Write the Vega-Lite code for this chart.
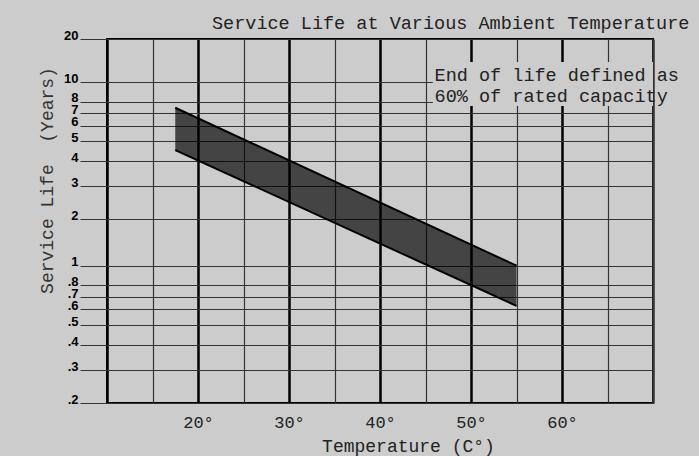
{
  "$schema": "https://vega.github.io/schema/vega-lite/v6.json",
  "width": 546,
  "height": 364,
  "autosize": {"type": "none"},
  "padding": {"left": 107, "top": 39, "right": 46, "bottom": 53},
  "background": "#cccccc",
  "title": {
    "text": "Service Life at Various Ambient Temperature",
    "font": "Liberation Mono",
    "fontSize": 18.5,
    "fontWeight": "normal",
    "color": "#222222",
    "anchor": "start",
    "frame": "group",
    "dx": 105,
    "dy": 11,
    "offset": 8
  },
  "config": {
    "view": {"stroke": "black", "strokeWidth": 2, "fill": "#cccccc"}
  },
  "datasets": {
    "band": [
      {"temperature": 17.5, "upper": 7.44, "lower": 4.52},
      {"temperature": 55, "upper": 1.0, "lower": 0.626}
    ],
    "note": [
      {"temperature": 46, "years": 11.2, "label": "End of life defined as"},
      {"temperature": 46, "years": 8.5, "label": "60% of rated capacity"}
    ],
    "box": [
      {"x1": 45.8, "x2": 70, "y1": 7.6, "y2": 13.8}
    ]
  },
  "layer": [
    {
      "data": {"name": "band"},
      "mark": {"type": "area", "fill": "black", "fillOpacity": 0.667},
      "encoding": {
        "x": {
          "field": "temperature", "type": "quantitative",
          "scale": {"domain": [10, 70], "nice": false, "zero": false},
          "axis": {
            "values": [10, 15, 20, 25, 30, 35, 40, 45, 50, 55, 60, 65, 70],
            "labelExpr": "(datum.value % 10 === 0 && datum.value > 10 && datum.value < 70) ? datum.value + '°' : ''",
            "labelFont": "Liberation Mono",
            "labelFontSize": 17,
            "labelColor": "#222222",
            "labelBaseline": "middle",
            "labelPadding": 19,
            "ticks": false,
            "tickSize": 0,
            "domain": false,
            "grid": true,
            "gridColor": {"condition": {"test": "datum.value % 10 === 0 && datum.value < 70", "value": "black"}, "value": "#333333"},
            "gridWidth": {"condition": {"test": "datum.value % 10 === 0", "value": 2.5}, "value": 1.2},
            "gridOpacity": 1,
            "title": "Temperature (C°)",
            "titleFont": "Liberation Mono",
            "titleFontSize": 18,
            "titleFontWeight": "normal",
            "titleColor": "#222222",
            "titleX": 301,
            "titleY": 43,
            "titleBaseline": "middle",
            "titleAlign": "center"
          }
        },
        "y": {
          "field": "upper", "type": "quantitative",
          "scale": {
            "type": "log",
            "domain": [0.2, 0.3, 0.4, 0.5, 0.6, 0.7, 0.8, 1, 2, 3, 4, 5, 6, 7, 8, 10, 20],
            "range": [364, 331, 306, 286, 270.3, 258, 246.3, 226.7, 180, 147, 122, 102, 86.7, 74, 62.5, 43, 0],
            "nice": false
          },
          "axis": {
            "values": [0.2, 0.3, 0.4, 0.5, 0.6, 0.7, 0.8, 1, 2, 3, 4, 5, 6, 7, 8, 10, 20],
            "labelExpr": "datum.value >= 1 ? format(datum.value, 'd') : '.' + format(round(datum.value * 10), 'd')",
            "labelFont": "Liberation Sans",
            "labelFontWeight": "bold",
            "labelFontSize": 13,
            "labelColor": "black",
            "labelBaseline": "alphabetic",
            "labelAlign": "right",
            "labelPadding": 2,
            "labelOverlap": false,
            "ticks": true,
            "tickSize": 27,
            "tickColor": "#333333",
            "tickWidth": 1,
            "domain": false,
            "grid": true,
            "gridColor": "#333333",
            "gridWidth": 1,
            "gridOpacity": 1,
            "title": "Service Life\u00a0\u00a0(Years)",
            "titleFont": "Liberation Mono",
            "titleFontSize": 18,
            "titleFontWeight": "normal",
            "titleColor": "#333333",
            "titleAngle": -90,
            "titleX": -60,
            "titleY": 141,
            "titleBaseline": "middle",
            "titleAlign": "center"
          }
        },
        "y2": {"field": "lower"}
      }
    },
    {
      "data": {"name": "band"},
      "mark": {"type": "line", "color": "black", "strokeWidth": 2},
      "encoding": {
        "x": {"field": "temperature", "type": "quantitative"},
        "y": {"field": "upper", "type": "quantitative"}
      }
    },
    {
      "data": {"name": "band"},
      "mark": {"type": "line", "color": "black", "strokeWidth": 2},
      "encoding": {
        "x": {"field": "temperature", "type": "quantitative"},
        "y": {"field": "lower", "type": "quantitative"}
      }
    },
    {
      "data": {"name": "box"},
      "mark": {"type": "rect", "fill": "#cccccc", "stroke": null},
      "encoding": {
        "x": {"field": "x1", "type": "quantitative"},
        "x2": {"field": "x2"},
        "y": {"field": "y1", "type": "quantitative"},
        "y2": {"field": "y2"}
      }
    },
    {
      "data": {"name": "note"},
      "mark": {"type": "text", "align": "left", "baseline": "middle", "font": "Liberation Mono", "fontSize": 18.5, "color": "#222222"},
      "encoding": {
        "x": {"field": "temperature", "type": "quantitative"},
        "y": {"field": "years", "type": "quantitative"},
        "text": {"field": "label"}
      }
    }
  ]
}
